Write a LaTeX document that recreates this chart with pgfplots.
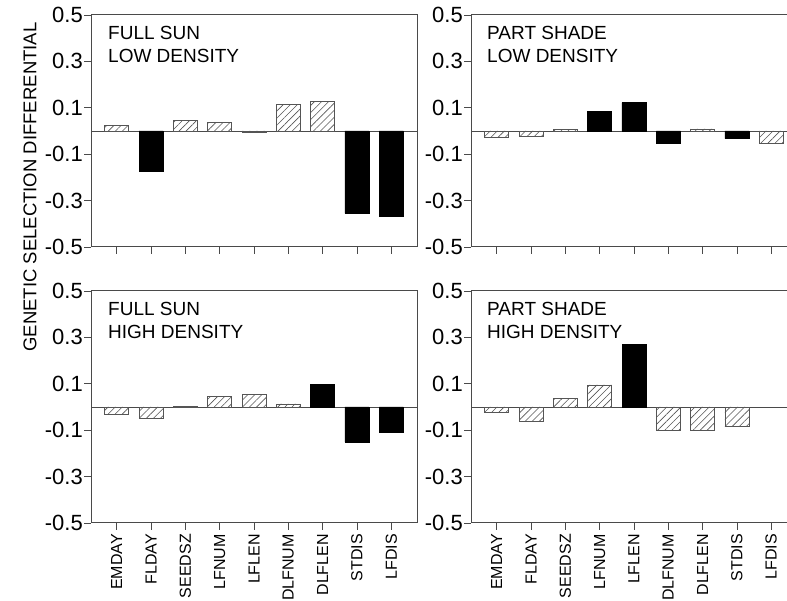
\documentclass[border=0pt]{standalone}
\usepackage{pgfplots}
\pgfplotsset{compat=1.18}
\usetikzlibrary{patterns.meta}
\usepackage{fontspec}
\setmainfont{Liberation Sans}
\definecolor{axgray}{HTML}{4A4A4A}
\definecolor{hatchgray}{HTML}{555555}

\pgfplotsset{
  panel/.style={
    scale only axis, width=326pt, height=232pt,
    xmin=-0.75, xmax=8.75,
    ymin=-0.5, ymax=0.5,
    ytick={-0.5,-0.3,-0.1,0.1,0.3,0.5},
    yticklabels={-0.5,-0.3,-0.1,0.1,0.3,0.5},
    xtick={0,1,2,3,4,5,6,7,8},
    xtick align=inside, ytick align=outside,
    major tick length=7pt,
    tick style={axgray, line width=0.8pt},
    axis line style={axgray, line width=1pt},
    yticklabel style={font=\fontsize{22}{26}\selectfont, inner sep=1pt},
    xticklabel style={rotate=90, anchor=east, font=\fontsize{16}{19}\selectfont, inner sep=4pt},
    ybar, bar width=24pt, bar shift=0pt,
    extra y ticks={0}, extra y tick labels={},
    extra y tick style={grid=major, major grid style={axgray, line width=0.8pt}, tick style={draw=none}},
    ytick pos=left, xtick pos=left,
  },
  rightpanel/.style={
    panel, width=316pt, xmax=8.46,
    separate axis lines, axis x line*=box, axis y line*=left,
    xtick pos=left, ytick pos=left,
  },
  hatch/.style={draw=hatchgray, line width=0.8pt, pattern={Lines[angle=45,distance=5pt,line width=0.6pt]}, pattern color=hatchgray},
  solidbar/.style={draw=black, fill=black, line width=0.8pt},
}
\newcommand{\panelfont}{\fontsize{19}{23}\selectfont}

\begin{document}
\begin{tikzpicture}
\useasboundingbox (0pt,0pt) rectangle (787pt,600pt);

% Top-left: Full sun, low density
\begin{axis}[panel, anchor=north west, at={(91pt,585pt)}, xticklabels={}]
  \addplot[hatch] coordinates {(0,0.023) (2,0.047) (3,0.037) (4,-0.007) (5,0.116) (6,0.129)};
  \addplot[solidbar] coordinates {(1,-0.175) (7,-0.355) (8,-0.369)};
  \node[anchor=north west, align=left, inner sep=0pt, font=\panelfont, xshift=17pt, yshift=-11pt] at (rel axis cs:0,1) {FULL SUN\\LOW DENSITY};
\end{axis}

% Top-right: Part shade, low density
\begin{axis}[rightpanel, anchor=north west, at={(471pt,585pt)}, xticklabels={}]
  \addplot[hatch] coordinates {(0,-0.026) (1,-0.024) (2,0.007) (6,0.009) (8,-0.052)};
  \addplot[solidbar] coordinates {(3,0.086) (4,0.122) (5,-0.055) (7,-0.033)};
  \node[anchor=north west, align=left, inner sep=0pt, font=\panelfont, xshift=16pt, yshift=-11pt] at (rel axis cs:0,1) {PART SHADE\\LOW DENSITY};
\end{axis}

% Bottom-left: Full sun, high density
\begin{axis}[panel, anchor=north west, at={(91pt,309pt)},
  xticklabels={EMDAY,FLDAY,SEEDSZ,LFNUM,LFLEN,DLFNUM,DLFLEN,STDIS,LFDIS}]
  \addplot[hatch] coordinates {(0,-0.030) (1,-0.047) (2,0.004) (3,0.046) (4,0.053) (5,0.013)};
  \addplot[solidbar] coordinates {(6,0.098) (7,-0.151) (8,-0.109)};
  \node[anchor=north west, align=left, inner sep=0pt, font=\panelfont, xshift=17pt, yshift=-11pt] at (rel axis cs:0,1) {FULL SUN\\HIGH DENSITY};
\end{axis}

% Bottom-right: Part shade, high density
\begin{axis}[rightpanel, anchor=north west, at={(471pt,309pt)},
  xticklabels={EMDAY,FLDAY,SEEDSZ,LFNUM,LFLEN,DLFNUM,DLFLEN,STDIS,LFDIS}]
  \addplot[hatch] coordinates {(0,-0.024) (1,-0.060) (2,0.035) (3,0.095) (5,-0.099) (6,-0.099) (7,-0.085)};
  \addplot[solidbar] coordinates {(4,0.270)};
  \node[anchor=north west, align=left, inner sep=0pt, font=\panelfont, xshift=16pt, yshift=-11pt] at (rel axis cs:0,1) {PART SHADE\\HIGH DENSITY};
\end{axis}

\node[rotate=90, font=\fontsize{18.5}{22}\selectfont, inner sep=0pt] at (30pt,413pt) {GENETIC SELECTION DIFFERENTIAL};
\end{tikzpicture}
\end{document}
